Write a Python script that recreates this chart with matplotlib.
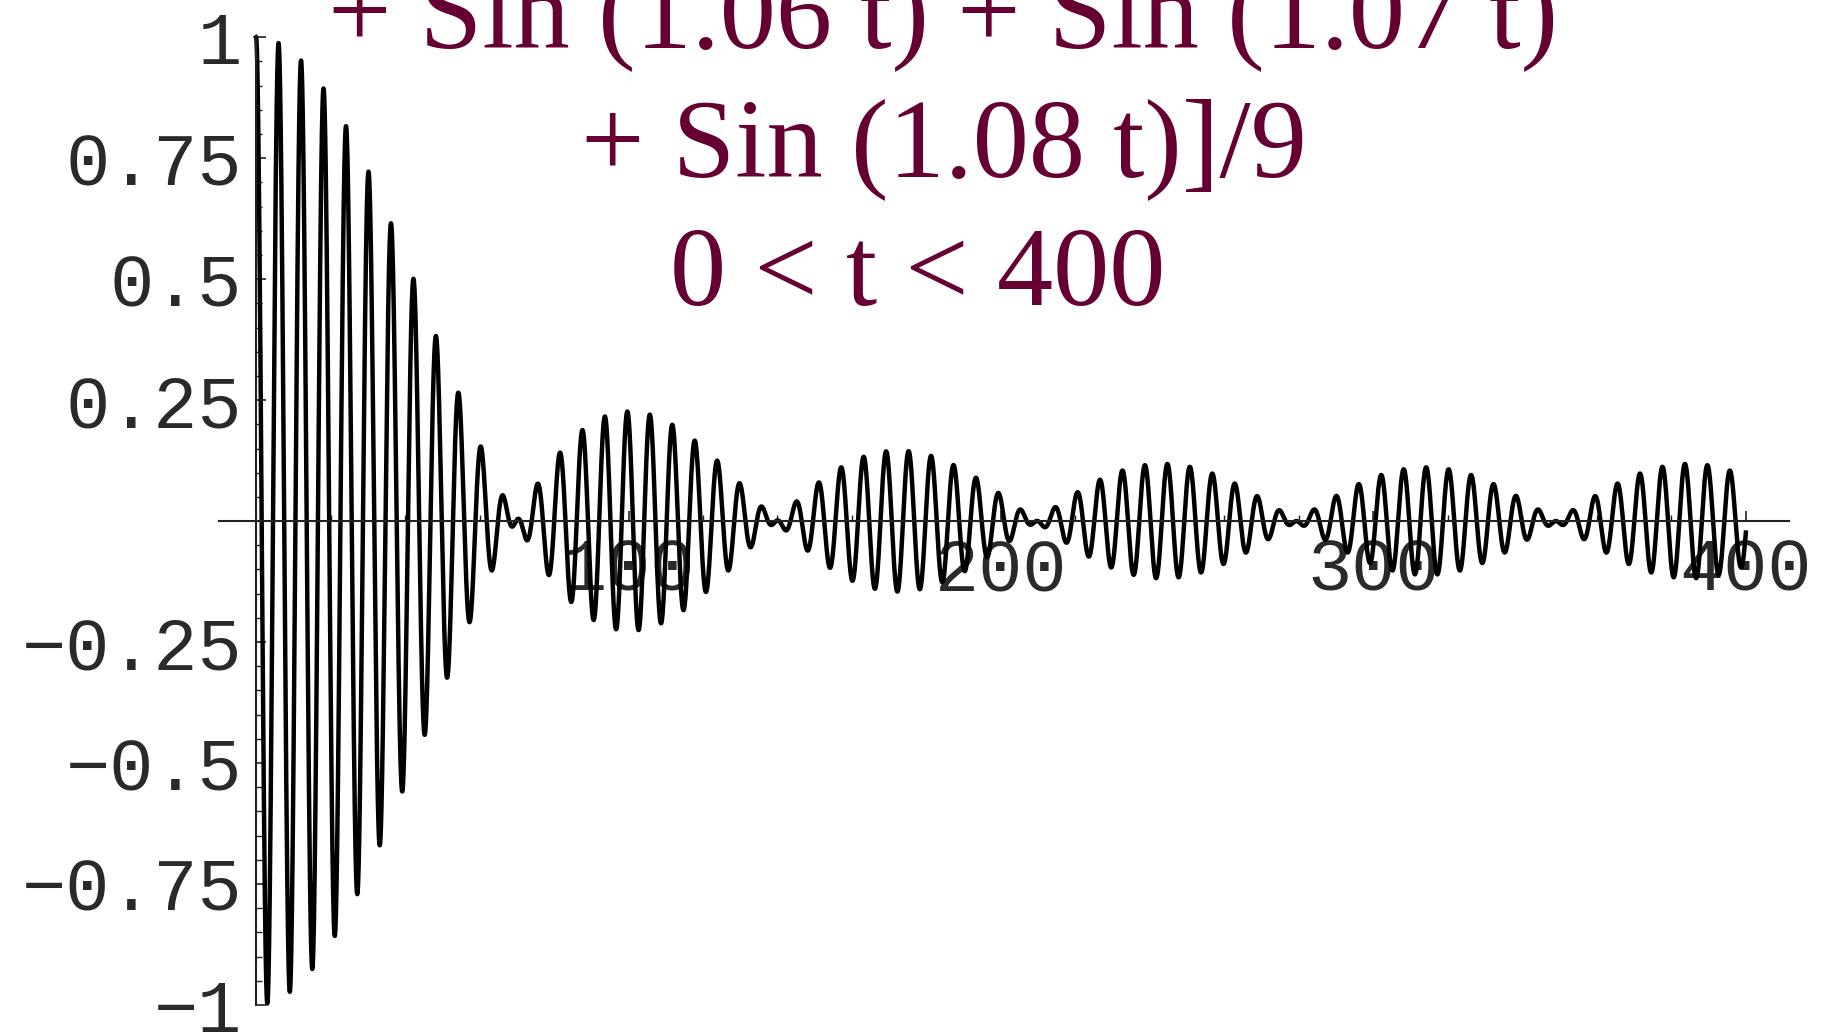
import numpy as np
import matplotlib.pyplot as plt
from matplotlib.ticker import FixedLocator

# frequencies of the nine summed waves
freqs = [1.00, 1.01, 1.02, 1.03, 1.04, 1.05, 1.06, 1.07, 1.08]
t_min, t_max = 0, 400

y_ticks = [-1, -0.75, -0.5, -0.25, 0.25, 0.5, 0.75, 1]
y_tick_labels = ["\u22121", "\u22120.75", "\u22120.5", "\u22120.25",
                 "0.25", "0.5", "0.75", "1"]
x_ticks = [100, 200, 300, 400]
x_tick_labels = ["100", "200", "300", "400"]

title_lines = ["+ Sin (1.06 t) + Sin (1.07 t)",
               "+ Sin (1.08 t)]/9",
               "0 < t < 400"]

t = np.linspace(t_min, t_max, 40000)
y = sum(np.cos(f * t) for f in freqs) / len(freqs)

fig = plt.figure(figsize=(18.25, 10.33), dpi=100)
ax = fig.add_axes([0, 0, 1, 1])
ax.set_facecolor('white')

ax.plot(t, y, color='black', lw=3.2, solid_joinstyle='round')

ax.set_xlim(-68.75, 421.25)
ax.set_ylim(-1.058, 1.077)

# axes crossing at the origin
for side in ['top', 'right']:
    ax.spines[side].set_visible(False)
ax.spines['left'].set_position(('data', 0))
ax.spines['bottom'].set_position(('data', 0))
ax.spines['left'].set_bounds(-1, 1)
ax.spines['bottom'].set_bounds(-10, 411.5)
for side in ['left', 'bottom']:
    ax.spines[side].set_linewidth(1.5)
    ax.spines[side].set_color('#222222')

ax.yaxis.set_major_locator(FixedLocator(y_ticks))
ax.set_yticklabels(y_tick_labels)
ax.yaxis.set_minor_locator(FixedLocator(
    [v for v in np.round(np.arange(-1, 1.001, 0.05), 2) if abs(v * 4 - round(v * 4)) > 1e-6]))
ax.xaxis.set_major_locator(FixedLocator(x_ticks))
ax.set_xticklabels(x_tick_labels)
ax.xaxis.set_minor_locator(FixedLocator([v for v in range(20, 401, 20) if v % 100]))

ax.tick_params(axis='both', which='both', direction='in', color='#222222')
ax.tick_params(axis='both', which='major', length=7, width=1.2)
ax.tick_params(axis='both', which='minor', length=4, width=1.0)
ax.tick_params(axis='y', which='major', pad=10)
ax.tick_params(axis='x', which='major', pad=11)
for lbl in ax.get_yticklabels() + ax.get_xticklabels():
    lbl.set_fontfamily('Liberation Mono')
    lbl.set_fontsize(53)
    lbl.set_color('#2a2a2a')

title_color = '#660033'
baselines = [47, 176, 305]
centers = [0.517, 0.517, 0.503]
for line, base, cx in zip(title_lines, baselines, centers):
    fig.text(cx, 1 - base / 1033, line, ha='center', va='baseline',
             fontfamily='Liberation Serif', fontsize=81, color=title_color)

fig.savefig('out.png', dpi=100)
